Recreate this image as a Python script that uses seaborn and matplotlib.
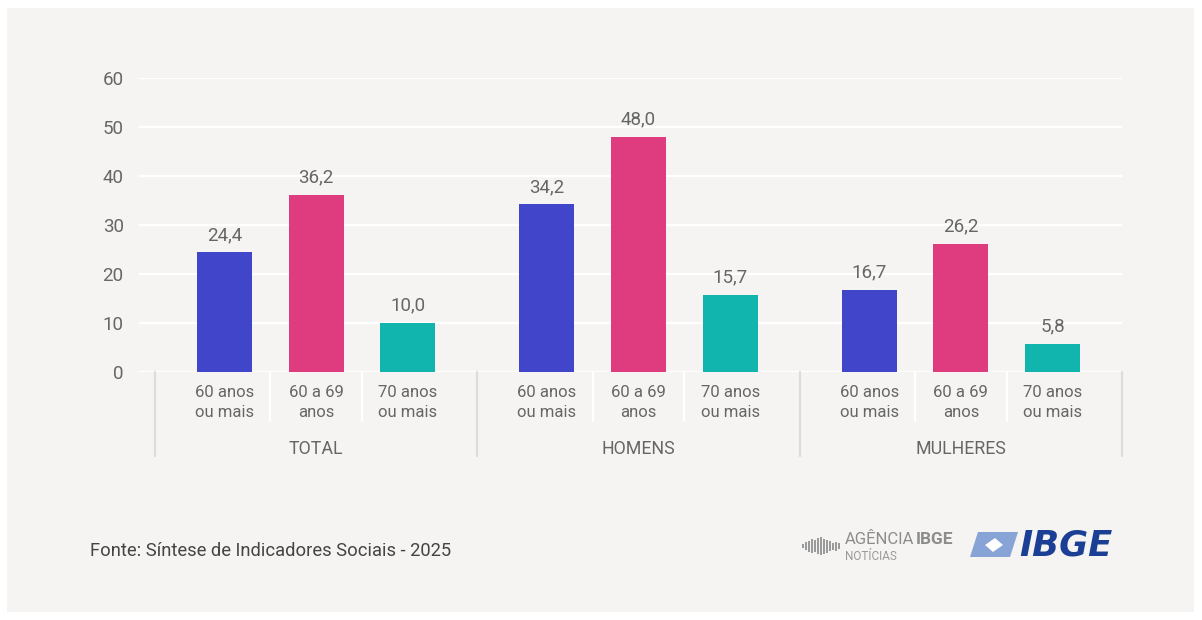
import pandas as pd
import numpy as np
import matplotlib.pyplot as plt
import matplotlib.transforms as mtransforms
from matplotlib.patches import Rectangle, Polygon
import seaborn as sns

# --- data ---
groups = ['TOTAL', 'HOMENS', 'MULHERES']
ages = ['60 anos\nou mais', '60 a 69\nanos', '70 anos\nou mais']
v_60mais = [24.4, 34.2, 16.7]
v_60a69 = [36.2, 48.0, 26.2]
v_70mais = [10.0, 15.7, 5.8]
colors = ['#4045c9', '#de3c7f', '#12b5ad']
source = 'Fonte: Síntese de Indicadores Sociais - 2025'

df = pd.DataFrame({
    'grupo': groups * 3,
    'idade': [ages[0]] * 3 + [ages[1]] * 3 + [ages[2]] * 3,
    'valor': v_60mais + v_60a69 + v_70mais,
})

bg = '#f5f4f2'
txt = '#666666'

sns.set_theme(style='white')
plt.rcParams['font.family'] = ['Roboto', 'DejaVu Sans']

fig = plt.figure(figsize=(12.02, 6.2), dpi=100, facecolor='white')
fig.patches.append(Rectangle((7 / 1202, 8 / 620), 1187 / 1202, 604 / 620,
                             transform=fig.transFigure, facecolor=bg,
                             edgecolor='none', zorder=-10))
ax = fig.add_axes([139 / 1202, (620 - 372) / 620, (1122 - 139) / 1202, 294 / 620])
ax.set_facecolor(bg)

sns.barplot(data=df, x='grupo', y='valor', hue='idade', hue_order=ages,
            order=groups, palette=colors, saturation=1, width=0.853, gap=0.4,
            linewidth=0, legend=False, ax=ax, zorder=3)

ax.set_ylim(0, 60)
ax.set_xlim(-0.55, 2.5)
ax.set_yticks(range(0, 61, 10))
ax.yaxis.grid(True, color='white', linewidth=1.6, zorder=0)
ax.set_axisbelow(True)
ax.tick_params(axis='y', length=0, pad=11, labelsize=13.5, labelcolor=txt)
ax.set_xticks([])
ax.set_xlabel('')
ax.set_ylabel('')
for s in ax.spines.values():
    s.set_visible(False)

# value labels
for cont in ax.containers:
    labs = [f"{b.get_height():.1f}".replace('.', ',') for b in cont]
    ax.bar_label(cont, labels=labs, padding=6, fontsize=13.5, color=txt)

# category labels under bars, group labels and separators
trans = mtransforms.blended_transform_factory(ax.transData, ax.transAxes)
for i, cont in enumerate(ax.containers):
    for bar in cont:
        cx = bar.get_x() + bar.get_width() / 2
        ax.text(cx, -0.103, ages[i], transform=trans, ha='center', va='center',
                fontsize=12, color=txt, linespacing=1.45)
step = 0.853 / 3
for g, name in enumerate(groups):
    ax.text(g, -0.262, name, transform=trans, ha='center', va='center',
            fontsize=12.8, color=txt)
    for off in (-step / 2, step / 2):
        ax.plot([g + off, g + off], [0, -0.165], transform=trans,
                color='white', linewidth=1.6, clip_on=False)
for b in np.arange(-0.5, len(groups), 1.0):
    ax.plot([b, b], [0, -0.285], transform=trans, color='#dcdcdc',
            linewidth=1.6, clip_on=False)

# footer
fig.text(90 / 1202, 1 - 551 / 620, source, fontsize=13.2, color='#444444',
         va='center', ha='left')

# agencia logo (approximation)
hs = [4, 8, 11, 14, 12, 16, 18, 15, 13, 10, 7, 9, 6]
for k, h in enumerate(hs):
    x0 = 802 + k * 3
    fig.patches.append(Rectangle((x0 / 1202, (620 - 546 - h / 2) / 620),
                                 1.8 / 1202, h / 620, transform=fig.transFigure,
                                 facecolor='#9a9a9a', edgecolor='none'))
fig.text(845 / 1202, 1 - 540 / 620, 'AGÊNCIA', fontsize=12, color='#8c8c8c',
         va='center', ha='left')
fig.text(916 / 1202, 1 - 540 / 620, 'IBGE', fontsize=12.5, color='#8c8c8c',
         va='center', ha='left', fontweight='bold')
fig.text(845 / 1202, 1 - 556 / 620, 'NOTÍCIAS', fontsize=8.5, color='#9a9a9a',
         va='center', ha='left')

# IBGE logo (approximation)
emb = Polygon([(970 / 1202, 1 - 557 / 620), (1010 / 1202, 1 - 557 / 620),
               (1018 / 1202, 1 - 532 / 620), (978 / 1202, 1 - 532 / 620)],
              closed=True, transform=fig.transFigure, facecolor='#88a3d6',
              edgecolor='none')
fig.patches.append(emb)
dia = Polygon([(993 / 1202, 1 - 552 / 620), (1003 / 1202, 1 - 545 / 620),
               (995 / 1202, 1 - 538 / 620), (985 / 1202, 1 - 545 / 620)],
              closed=True, transform=fig.transFigure, facecolor='white',
              edgecolor='none')
fig.patches.append(dia)
fig.text(1019 / 1202, 1 - 545 / 620, 'IBGE', fontsize=25.5, color='#1a3f95',
         va='center', ha='left', fontweight='bold', fontstyle='oblique',
         family='DejaVu Sans')

plt.savefig('out.png', dpi=100, facecolor='white')
